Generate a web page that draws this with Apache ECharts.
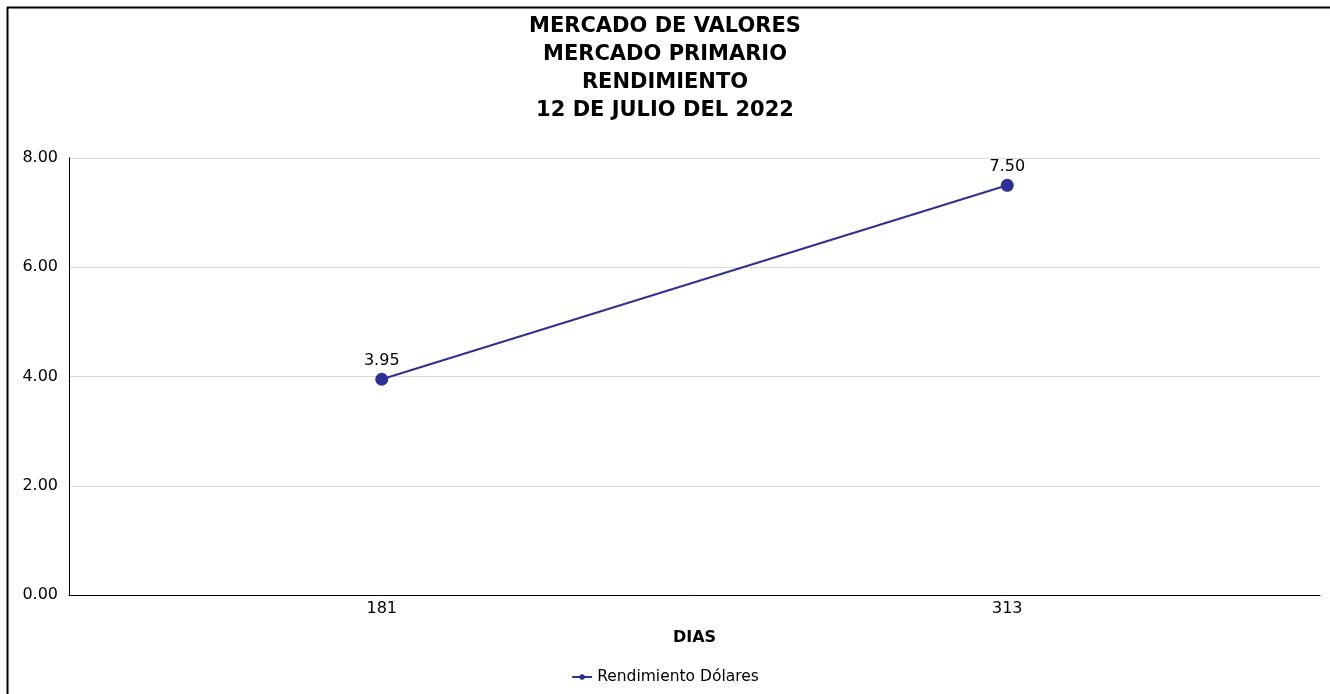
<!DOCTYPE html>
<html><head><meta charset="utf-8">
<script src="https://cdn.jsdelivr.net/npm/echarts@6/dist/echarts.min.js"></script>
<style>html,body{margin:0;padding:0;background:#fff}#c{width:1330px;height:694px}</style>
</head><body><div id="c"></div>
<script>
const categories = ['181', '313'];
const rendimientoDolares = [3.95, 7.50];
const titleLines = ['MERCADO DE VALORES', 'MERCADO PRIMARIO', 'RENDIMIENTO', '12 DE JULIO DEL 2022'];
const seriesName = 'Rendimiento Dólares';
const xAxisName = 'DIAS';
const FONT = 'DejaVu Sans';

const chart = echarts.init(document.getElementById('c'));
chart.setOption({
  animation: false,
  backgroundColor: '#fff',
  textStyle: { fontFamily: FONT },
  title: {
    text: titleLines.join('\n'),
    left: 'center', top: 8,
    textStyle: { fontFamily: FONT, fontWeight: 'bold', fontSize: 21, lineHeight: 28, color: '#000' }
  },
  graphic: [
    { type: 'line', shape: { x1: 7, y1: 7.5, x2: 1330, y2: 7.5 }, style: { stroke: '#000', lineWidth: 2 } },
    { type: 'line', shape: { x1: 7.5, y1: 7, x2: 7.5, y2: 694 }, style: { stroke: '#000', lineWidth: 2 } }
  ],
  legend: {
    bottom: 4, left: 'center',
    itemWidth: 20, itemHeight: 7, itemGap: 10,
    textStyle: { fontFamily: FONT, fontSize: 15.5, color: '#000' },
    data: [{ name: seriesName }]
  },
  grid: { left: 69, right: 10, top: 158, bottom: 99, containLabel: false },
  xAxis: {
    type: 'category', data: categories,
    name: xAxisName, nameLocation: 'middle', nameGap: 35,
    nameTextStyle: { fontFamily: FONT, fontWeight: 'bold', fontSize: 16, color: '#000' },
    axisLine: { lineStyle: { color: '#000', width: 1 } },
    axisTick: { show: false },
    axisLabel: { fontFamily: FONT, fontSize: 16, color: '#000', margin: 6 }
  },
  yAxis: {
    type: 'value', min: 0, max: 8, interval: 2,
    axisLine: { show: true, lineStyle: { color: '#000', width: 1 } },
    axisTick: { show: false },
    splitLine: { lineStyle: { color: '#d9d9d9', width: 1 } },
    axisLabel: { fontFamily: FONT, fontSize: 16, color: '#000', margin: 11, formatter: v => v.toFixed(2) }
  },
  series: [{
    name: seriesName, type: 'line', data: rendimientoDolares,
    symbol: 'circle', symbolSize: 13,
    itemStyle: { color: '#2e3192' },
    lineStyle: { color: '#2e3192', width: 2 },
    label: { show: true, position: 'top', distance: 4, fontFamily: FONT, fontSize: 16, color: '#000', formatter: p => p.value.toFixed(2) }
  }]
});
</script></body></html>
